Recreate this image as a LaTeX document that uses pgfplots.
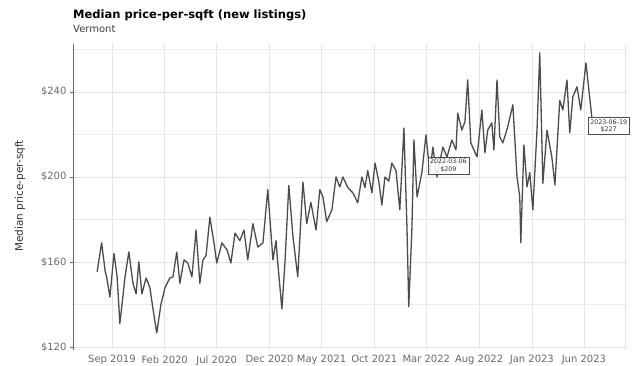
\documentclass[border=0pt]{standalone}
\usepackage{fontspec}
\setmainfont{DejaVu Sans}
\usepackage{pgfplots}
\pgfplotsset{compat=1.18}
\definecolor{linec}{RGB}{75,75,75}
\definecolor{gridc}{RGB}{228,228,228}
\definecolor{tickc}{RGB}{105,105,105}
\pgfplotstableread{
d v
-43 155.4
-30 169
-20 156
-15 152.5
-6 143.5
6 164
15 153
23 131
38 153
49 164.7
61 150
70 145
78 160
87 145
99 152.5
110 148
119 138
130 126.6
142 140
154 148
168 152.5
177 153
188 164.7
197 150
209 161
220 159.5
232 153
244 175
255 150
264 161
273 163
284 181
296 169
304 159.5
319 169
334 165.6
345 159.5
357 173.6
371 170
383 175
394 161
409 178
423 167
438 169
452 194
467 161
476 170
481 159.5
493 138
502 160
513 196
525 172
539 153
554 197.6
565 178
577 188
592 175
603 194
612 190.6
623 179
638 184.5
650 200
661 195.3
670 200
684 195
699 192.5
713 187.8
725 200
734 195
742 203
754 192.5
763 206.5
774 198
783 186.8
792 200
803 198
812 206.5
824 203
835 184.5
847 223
856 175
861 139
870 175
876 217.4
885 190.6
899 201.9
911 219.8
922 201.9
931 214
943 200
951 207
960 214
972 209.4
986 217.4
998 212.7
1003 230
1015 222
1024 226
1032 245.6
1041 216
1050 212.7
1059 209.4
1073 231.5
1082 211.3
1090 222
1102 225.4
1108 212.7
1117 245.6
1125 218.8
1134 216
1148 223.5
1163 233.9
1175 200
1183 190.6
1186 169
1195 215
1204 195.3
1212 202
1221 184.5
1233 222
1241 258.4
1250 197
1262 222
1276 209.4
1285 196.2
1299 236
1308 231.5
1320 245.6
1328 220.7
1337 237.6
1349 242.4
1360 231.5
1375 253.6
1392 228.2
}\pricedata
\begin{document}
\begin{tikzpicture}
\useasboundingbox (-73pt,-15pt) rectangle (561pt,350pt);
\begin{axis}[
  at={(0pt,0pt)}, anchor=south west,
  scale only axis, width=555pt, height=306pt,
  xmin=-113, xmax=1497, ymin=118.6, ymax=262.5,
  axis lines*=left,
  x axis line style={draw=none},
  y axis line style={draw=tickc, line width=0.6pt},
  xtick={0,153,304,457,608,761,912,1065,1218,1369},
  xticklabels={Sep 2019,Feb 2020,Jul 2020,Dec 2020,May 2021,Oct 2021,Mar 2022,Aug 2022,Jan 2023,Jun 2023},
  ytick={120,160,200,240},
  yticklabels={\$120,\$160,\$200,\$240},
  minor ytick={140,180,220,260},
  grid=both,
  major grid style={gridc, line width=0.6pt},
  minor grid style={gridc!70, line width=0.5pt},
  xtick style={draw=none},
  ytick style={draw=tickc, line width=0.5pt},
  minor tick length=0pt, major tick length=3pt,
  tick align=outside,
  tick label style={font=\fontsize{10}{11}\selectfont, text=tickc},
  xticklabel style={yshift=1pt},
  /pgf/number format/assume math mode=true,
  clip=false,
]
\draw[gridc, line width=0.6pt] (axis cs:1488,118.6) -- (axis cs:1488,262.5);
\addplot[linec, line width=1.3pt, line join=round, mark=none] table[x=d, y=v] {\pricedata};
\node[draw=linec, fill=white, fill opacity=0.85, text opacity=1, line width=0.4pt, inner sep=2.2pt, anchor=north west, align=center, font=\fontsize{6.3}{7.4}\selectfont, text=black!80] at (axis cs:916,209.4) {2022-03-06\\\$209};
\node[draw=linec, fill=white, fill opacity=0.85, text opacity=1, line width=0.4pt, inner sep=2.2pt, anchor=north west, align=center, font=\fontsize{6.3}{7.4}\selectfont, text=black!80] at (axis cs:1381,228.2) {2023-06-19\\\$227};
\end{axis}
\node[anchor=base west, inner sep=0pt, font=\bfseries\fontsize{11.5}{13}\selectfont] at (0pt,331pt) {Median price-per-sqft (new listings)};
\node[anchor=base west, inner sep=0pt, font=\fontsize{10}{11}\selectfont, text=black!75] at (0pt,317pt) {Vermont};
\node[rotate=90, inner sep=0pt, font=\fontsize{10.5}{12}\selectfont, text=black!80] at (-53pt,154pt) {Median price-per-sqft};
\end{tikzpicture}
\end{document}
